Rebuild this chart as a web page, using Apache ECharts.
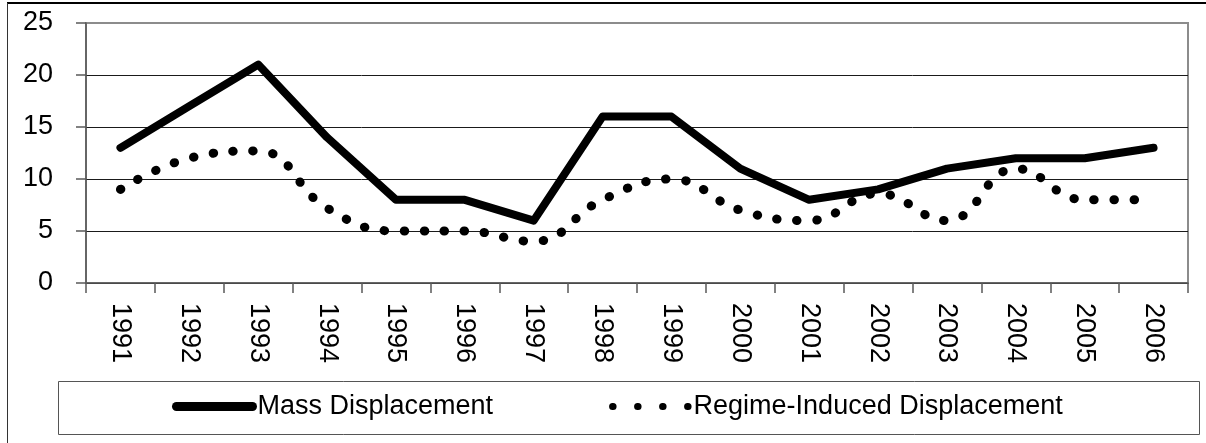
<!DOCTYPE html>
<html>
<head>
<meta charset="utf-8">
<script src="https://cdn.jsdelivr.net/npm/echarts@6/dist/echarts.min.js"></script>
<style>
html,body{margin:0;padding:0;background:#fff;}
#chart{width:1206px;height:443px;}
</style>
</head>
<body>
<div id="chart"></div>
<script>
const years = ['1991','1992','1993','1994','1995','1996','1997','1998','1999','2000','2001','2002','2003','2004','2005','2006'];
const massDisplacement = [13, 17, 21, 14, 8, 8, 6, 16, 16, 11, 8, 9, 11, 12, 12, 13];
const regimeInduced = [9, 12, 12.7, 7.2, 5, 5, 4, 8, 10, 7, 6, 8.6, 6, 11, 8, 8];
const yTicks = {min: 0, max: 25, interval: 5};
const seriesNames = ['Mass Displacement', 'Regime-Induced Displacement'];

const FONT = '"Liberation Sans", Arial, sans-serif';
const chart = echarts.init(document.getElementById('chart'), null, {renderer: 'canvas'});
chart.setOption({
  animation: false,
  backgroundColor: '#fff',
  color: ['#000', '#000'],
  graphic: [
    {type: 'line', shape: {x1: 7, y1: 3, x2: 1206, y2: 3}, style: {stroke: '#000', lineWidth: 2}, z: 10},
    {type: 'line', shape: {x1: 7.5, y1: 3, x2: 7.5, y2: 443}, style: {stroke: '#333', lineWidth: 1}, z: 10},
    {type: 'rect', shape: {x: 58.5, y: 381.5, width: 1141, height: 53}, style: {fill: 'none', stroke: '#555', lineWidth: 1}, z: 1}
  ],
  grid: {
    left: 86, right: 18, top: 23, bottom: 160,
    show: true, borderColor: '#8c8c8c', borderWidth: 2, backgroundColor: 'transparent'
  },
  legend: {
    left: 172, top: 393, padding: 0,
    itemWidth: 76, itemHeight: 30, itemGap: 116,
    textStyle: {fontFamily: FONT, fontSize: 27, color: '#000'},
    itemStyle: {opacity: 0},
    data: [
      {name: seriesNames[0], itemStyle: {opacity: 0}, lineStyle: {width: 9, type: 'solid', cap: 'round', color: '#000'}},
      {name: seriesNames[1], itemStyle: {opacity: 0}, lineStyle: {width: 7, type: [0.5, 24.5], cap: 'round', color: '#000'}}
    ]
  },
  xAxis: {
    type: 'category',
    data: years,
    boundaryGap: true,
    axisLine: {show: true, lineStyle: {color: '#5a5a5a', width: 1.5}},
    axisTick: {show: true, length: 10, alignWithLabel: false, lineStyle: {color: '#5a5a5a', width: 1.5}},
    axisLabel: {rotate: -90, margin: 20, fontFamily: FONT, fontSize: 27, color: '#000', interval: 0}
  },
  yAxis: {
    type: 'value',
    min: yTicks.min, max: yTicks.max, interval: yTicks.interval,
    axisLine: {show: true, lineStyle: {color: '#5a5a5a', width: 1.5}},
    axisTick: {show: true, length: 10, lineStyle: {color: '#5a5a5a', width: 1.5}},
    axisLabel: {margin: 33, fontFamily: FONT, fontSize: 27, color: '#000'},
    splitLine: {show: true, showMaxLine: false, lineStyle: {color: '#1a1a1a', width: 1}}
  },
  series: [
    {
      name: seriesNames[0], type: 'line', data: massDisplacement,
      symbol: 'none', smooth: false,
      itemStyle: {color: '#000'},
      lineStyle: {color: '#000', width: 8, cap: 'round', join: 'round'},
      z: 3
    },
    {
      name: seriesNames[1], type: 'line', data: regimeInduced,
      symbol: 'none', smooth: 0.45,
      itemStyle: {color: '#000'},
      lineStyle: {color: '#000', width: 9, type: [0.5, 19.5], cap: 'round', join: 'round'},
      z: 2
    }
  ]
});
</script>
</body>
</html>
